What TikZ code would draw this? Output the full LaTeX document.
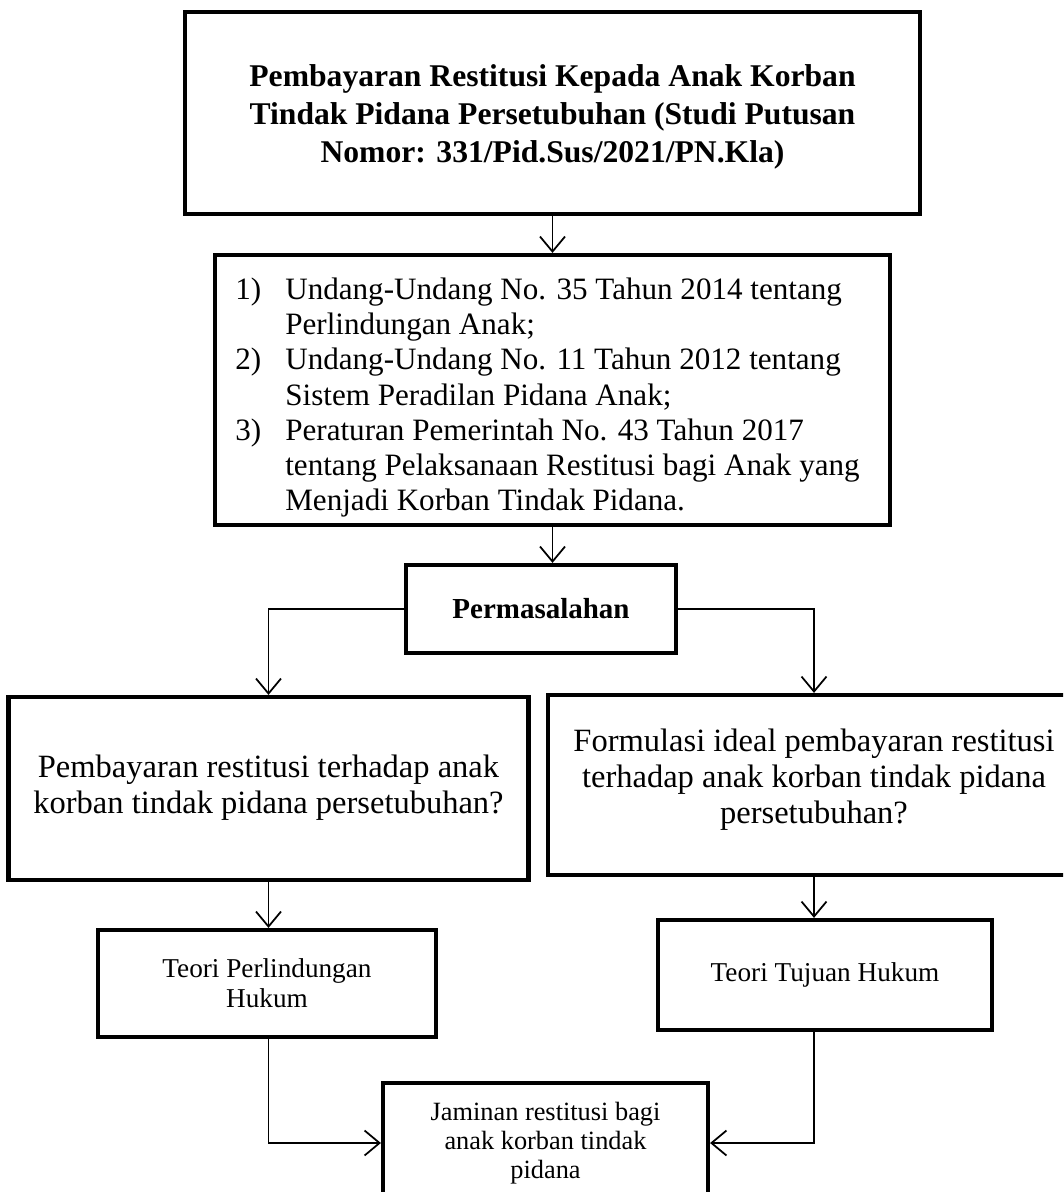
\documentclass[tikz,border=0pt]{standalone}
\usepackage{fontspec}
\setmainfont{Liberation Serif}
\usetikzlibrary{arrows.meta,positioning}

\begin{document}
\begin{tikzpicture}[x=0.02cm, y=-0.02cm,
  box/.style={draw, line width=2.4pt, inner sep=0pt, align=center},
  link/.style={line width=1pt, -{Straight Barb[length=0.3cm, width=0.5cm, line width=1pt]}}]
  % Page frame (the lowest box runs off the page)
  \useasboundingbox (0,0) rectangle (1063,1192);
  \clip (0,0) rectangle (1063,1192);
  % Title of the study
  \node[box, minimum width=14.7cm, minimum height=4.04cm,
        font=\fontsize{18}{21.6}\selectfont\bfseries] (title) at (552.5,113)
    {\raisebox{-0.08cm}[\height][\depth]{\begin{tabular}{@{}c@{}}
      Pembayaran Restitusi Kepada Anak Korban\\
      Tindak Pidana Persetubuhan (Studi Putusan\\
      Nomor: 331/Pid.Sus/2021/PN.Kla)
     \end{tabular}}};
  % Legal basis
  \node[box, minimum width=13.5cm, minimum height=5.4cm,
        font=\fontsize{17.7}{20}\selectfont] (laws) at (552.5,390)
    {\raisebox{-0.16cm}[\height][\depth]{\begin{tabular}{@{}p{1cm}@{}l@{}}
      1) & Undang-Undang No. 35 Tahun 2014 tentang\\
         & Perlindungan Anak;\\
      2) & Undang-Undang No. 11 Tahun 2012 tentang\\
         & Sistem Peradilan Pidana Anak;\\
      3) & Peraturan Pemerintah No. 43 Tahun 2017\\
         & tentang Pelaksanaan Restitusi bagi Anak yang\\
         & Menjadi Korban Tindak Pidana.
     \end{tabular}}\hspace*{0.2cm}};
  % Problem statement
  \node[box, minimum width=5.4cm, minimum height=1.76cm,
        font=\fontsize{16.5}{20}\selectfont\bfseries] (prob) at (541,609) {Permasalahan};
  % Research questions
  \node[box, minimum width=10.4cm, minimum height=3.66cm,
        font=\fontsize{18.5}{20.5}\selectfont] (leftq) at (268.5,788.5)
    {\begin{tabular}{@{}c@{}}
      Pembayaran restitusi terhadap anak\\
      korban tindak pidana persetubuhan?
     \end{tabular}};
  \node[box, minimum width=10.64cm, minimum height=3.6cm,
        font=\fontsize{18.5}{20.5}\selectfont] (rightq) at (814,785)
    {\raisebox{0.1cm}[\height][\depth]{\begin{tabular}{@{}c@{}}
      Formulasi ideal pembayaran restitusi\\
      terhadap anak korban tindak pidana\\
      persetubuhan?
     \end{tabular}}};
  % Theories
  \node[box, minimum width=6.76cm, minimum height=2.14cm,
        font=\fontsize{15.5}{17.2}\selectfont] (tp) at (267,983.5)
    {Teori Perlindungan\\ Hukum};
  \node[box, minimum width=6.68cm, minimum height=2.2cm,
        font=\fontsize{15.5}{17.2}\selectfont] (tt) at (825,975)
    {Teori Tujuan Hukum};
  % Outcome (bottom edge lies below the page)
  \node[box, minimum width=6.5cm, minimum height=2.4cm,
        font=\fontsize{15}{16.4}\selectfont] (jam) at (545.5,1143)
    {Jaminan restitusi bagi\\ anak korban tindak\\ pidana};
  % Connectors
  \draw[link] (title.south) -- (laws.north);
  \draw[link] (laws.south) -- (laws.south |- prob.north);
  \draw[link] (prob.west) -| (leftq.north);
  \draw[link] (prob.east) -| (rightq.north);
  \draw[link] (leftq.south) -- (leftq.south |- tp.north);
  \draw[link] (rightq.south) -- (rightq.south |- tt.north);
  \draw[link] (leftq.south |- tp.south) |- (jam.west);
  \draw[link] (rightq.south |- tt.south) |- (jam.east);
\end{tikzpicture}
\end{document}
